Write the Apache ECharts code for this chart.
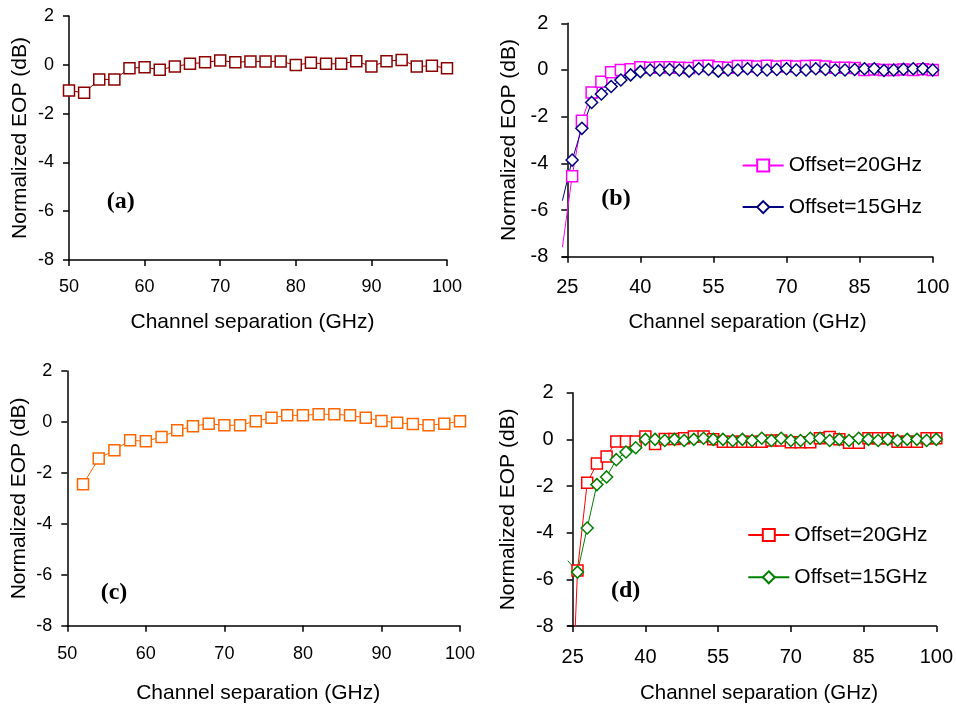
<!DOCTYPE html>
<html>
<head>
<meta charset="utf-8">
<script src="https://cdn.jsdelivr.net/npm/echarts@6/dist/echarts.min.js"></script>
<style>
html,body{margin:0;padding:0;background:#fff;}
#chart{width:956px;height:707px;}
</style>
</head>
<body>
<div id="chart"></div>
<script>
// ---------- DATA ----------
const xA = [50,52,54,56,58,60,62,64,66,68,70,72,74,76,78,80,82,84,86,88,90,92,94,96,98,100];
const eopA = [-1.05,-1.15,-0.6,-0.6,-0.14,-0.1,-0.2,-0.07,0.04,0.1,0.18,0.1,0.14,0.14,0.14,-0.01,0.08,0.04,0.04,0.15,-0.07,0.15,0.2,-0.07,-0.04,-0.14];

const xC = [52,54,56,58,60,62,64,66,68,70,72,74,76,78,80,82,84,86,88,90,92,94,96,98,100];
const eopC = [-2.45,-1.44,-1.11,-0.72,-0.76,-0.59,-0.33,-0.17,-0.07,-0.13,-0.13,0.03,0.16,0.26,0.26,0.3,0.3,0.26,0.16,0.04,-0.03,-0.08,-0.13,-0.07,0.03];

const xB = [24,26,28,30,32,34,36,38,40,42,44,46,48,50,52,54,56,58,60,62,64,66,68,70,72,74,76,78,80,82,84,86,88,90,92,94,96,98,100];
const eopB20 = [-7.6,-4.55,-2.17,-0.97,-0.5,-0.1,0.0,0.03,0.12,0.1,0.12,0.12,0.1,0.08,0.17,0.18,0.12,0.1,0.17,0.17,0.15,0.18,0.15,0.17,0.15,0.17,0.18,0.15,0.1,0.1,0.08,0.0,0.02,0.0,0.0,0.02,0.0,0.03,0.0];
const eopB15 = [-5.6,-3.86,-2.5,-1.39,-1.03,-0.71,-0.43,-0.21,-0.07,0.0,0.0,0.02,0.0,-0.05,0.05,0.02,-0.05,0.0,0.0,0.05,0.0,0.0,0.02,0.05,0.0,0.0,0.05,0.02,0.0,0.0,0.02,0.05,0.05,-0.02,0.0,0.03,0.05,0.05,0.0];

const xD = [24,26,28,30,32,34,36,38,40,42,44,46,48,50,52,54,56,58,60,62,64,66,68,70,72,74,76,78,80,82,84,86,88,90,92,94,96,98,100];
const eopD20 = [-16,-5.62,-1.86,-1.04,-0.73,-0.09,-0.09,-0.09,0.12,-0.2,0.02,0.02,0.05,0.12,0.12,0.0,-0.1,-0.1,-0.1,-0.1,-0.1,-0.05,-0.05,-0.12,-0.12,-0.12,0.05,0.1,0.0,-0.15,-0.15,0.05,0.05,0.05,-0.1,-0.1,-0.1,0.05,0.05];
const eopD15 = [-5.2,-5.69,-3.8,-1.94,-1.61,-0.87,-0.54,-0.36,0.0,0.0,-0.05,0.0,-0.05,0.0,0.05,0.0,0.0,-0.05,0.0,-0.05,0.05,-0.05,0.05,-0.05,-0.05,0.05,0.05,-0.05,0.0,-0.05,0.05,0.0,-0.05,0.0,-0.05,0.0,0.0,-0.05,0.0];

const yTicks = [-8,-6,-4,-2,0,2];
const xTicksBD = [25,40,55,70,85,100];
const panelLabels = ['(a)','(b)','(c)','(d)'];
const legendNames = ['Offset=20GHz','Offset=15GHz'];
const yTitle = 'Normalized EOP (dB)';
const xTitle = 'Channel separation (GHz)';

// ---------- LAYOUT ----------
const FONT = '"Liberation Sans", Arial, sans-serif';
const grids = [
  {left:69, top:16, width:378, height:244},
  {left:562.4, top:23.3, width:370.3, height:233.4},
  {left:67.3, top:371, width:392.7, height:254.7},
  {left:567.8, top:392.7, width:370.5, height:233.3}
];
const xMinBD = xB[0];
const axisLineStyle = {color:'#000', width:1.5};

function pts(xs, ys){
  return xs.map((x,i)=>{
    const d = {value:[x, ys[i]]};
    if (x < 25) d.symbol = 'none';
    return d;
  });
}

function xAxisAC(gi, labelMargin, nameGap){
  return {
    gridIndex: gi, type:'value', min:50, max:100, interval:10,
    axisLine:{show:true, onZero:false, lineStyle:axisLineStyle},
    axisTick:{show:true, inside:false, length:6, lineStyle:axisLineStyle},
    axisLabel:{color:'#000', fontSize:18, fontFamily:FONT, margin:labelMargin},
    splitLine:{show:false},
    name:xTitle, nameLocation:'middle', nameGap:nameGap,
    nameTextStyle:{color:'#000', fontSize:21, fontFamily:FONT, padding:[0,11,0,0]}
  };
}
function xAxisBD(gi, labelMargin, nameGap, namePad){
  return {
    gridIndex: gi, type:'value', min:xMinBD, max:100,
    axisLine:{show:true, onZero:false, lineStyle:axisLineStyle},
    axisTick:{show:true, inside:false, length:6, lineStyle:axisLineStyle, customValues:xTicksBD},
    axisLabel:{color:'#000', fontSize:20, fontFamily:FONT, margin:labelMargin, customValues:xTicksBD},
    splitLine:{show:false},
    name:xTitle, nameLocation:'middle', nameGap:nameGap,
    nameTextStyle:{color:'#000', fontSize:20.5, fontFamily:FONT, padding:namePad}
  };
}
function yAxis(gi, fontSize, labelMargin, nameGap, offset){
  return {
    gridIndex: gi, type:'value', min:yTicks[0], max:yTicks[yTicks.length-1], interval:2,
    offset: offset || 0,
    axisLine:{show:true, onZero:false, lineStyle:axisLineStyle},
    axisTick:{show:true, inside:false, length:6, lineStyle:axisLineStyle},
    axisLabel:{color:'#000', fontSize:fontSize, fontFamily:FONT, margin:labelMargin},
    splitLine:{show:false},
    name:yTitle, nameLocation:'middle', nameGap:nameGap,
    nameTextStyle:{color:'#000', fontSize:21, fontFamily:FONT}
  };
}
function seriesLine(name, gi, xs, ys, color, symbol, size){
  return {
    name:name, type:'line', xAxisIndex:gi, yAxisIndex:gi,
    data: pts(xs, ys), clip:true,
    symbol:symbol, symbolSize:size, showAllSymbol:true,
    lineStyle:{color:color, width:1},
    itemStyle:{color:'#fff', borderColor:color, borderWidth:1.5},
    emphasis:{disabled:true}, animation:false
  };
}

const offB = -(25 - xMinBD) / (100 - xMinBD) * grids[1].width;
const offD = -(25 - xMinBD) / (100 - xMinBD) * grids[3].width;

const labelPos = [[120.7,201.7],[616,199],[114,592.3],[625.7,590.7]];

const option = {
  backgroundColor:'#fff',
  animation:false,
  grid: grids.map(g=>Object.assign({containLabel:false}, g)),
  xAxis:[
    xAxisAC(0, 18, 52),
    xAxisBD(1, 21, 55, [0,0,0,0]),
    xAxisAC(2, 19, 57),
    xAxisBD(3, 21, 57, [0,0,0,14])
  ],
  yAxis:[
    yAxis(0, 18, 15, 38),
    yAxis(1, 20, 19, 48, offB),
    yAxis(2, 18, 15, 38),
    yAxis(3, 20, 19, 54, offD)
  ],
  legend:[
    {
      orient:'vertical', left:741.7, top:155, itemWidth:41, itemHeight:15, itemGap:20.6,
      padding:0, selectedMode:false,
      data:['b:'+legendNames[0], 'b:'+legendNames[1]],
      formatter: n => n.slice(2),
      textStyle:{color:'#000', fontSize:21, fontFamily:FONT}
    },
    {
      orient:'vertical', left:747.3, top:524.5, itemWidth:41, itemHeight:15, itemGap:21.3,
      padding:0, selectedMode:false,
      data:['d:'+legendNames[0], 'd:'+legendNames[1]],
      formatter: n => n.slice(2),
      textStyle:{color:'#000', fontSize:21, fontFamily:FONT}
    }
  ],
  graphic: panelLabels.map((t,i)=>({
    type:'text', x:labelPos[i][0], y:labelPos[i][1], silent:true,
    style:{text:t, textAlign:'center', textVerticalAlign:'middle',
      font:'bold 24px "Liberation Serif", "Times New Roman", serif', fill:'#000'}
  })),
  series:[
    seriesLine('a', 0, xA, eopA, '#8B0000', 'rect', 11),
    seriesLine('b:'+legendNames[0], 1, xB, eopB20, '#FF00FF', 'rect', 11),
    seriesLine('b:'+legendNames[1], 1, xB, eopB15, '#000080', 'diamond', 12),
    seriesLine('c', 2, xC, eopC, '#FF6600', 'rect', 11),
    seriesLine('d:'+legendNames[0], 3, xD, eopD20, '#FF0000', 'rect', 11),
    seriesLine('d:'+legendNames[1], 3, xD, eopD15, '#008000', 'diamond', 12)
  ]
};

const chart = echarts.init(document.getElementById('chart'), null, {renderer:'canvas'});
chart.setOption(option);
</script>
</body>
</html>
